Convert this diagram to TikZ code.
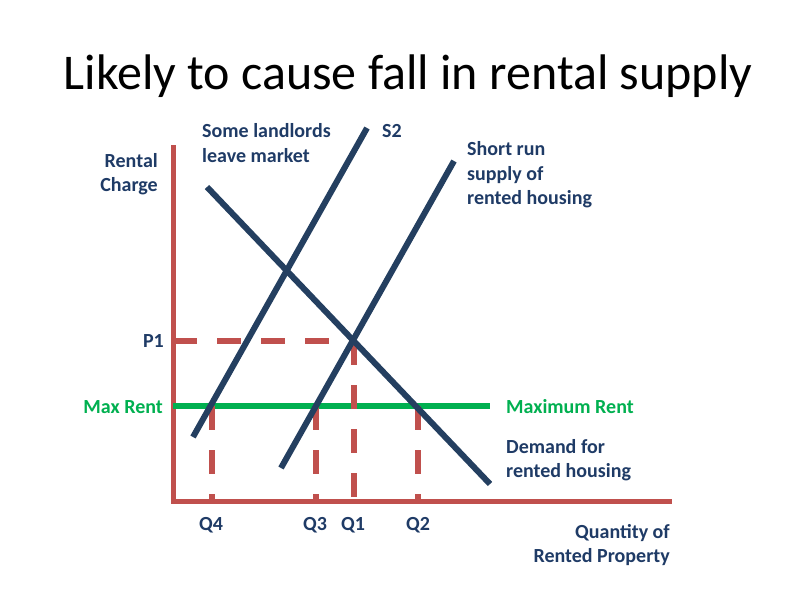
\documentclass[tikz,border=0pt]{standalone}
\usepackage{fontspec}
\setmainfont{Carlito}
\usepackage{tikz}
\usetikzlibrary{arrows,positioning}
\definecolor{curveblue}{HTML}{243F60}
\definecolor{labelblue}{HTML}{1F3B66}
\definecolor{axisred}{HTML}{C0504D}
\definecolor{rentgreen}{HTML}{00B050}

\begin{document}
\begin{tikzpicture}[x=1pt,y=-1pt]
\tikzset{curve/.style = {line width=6pt, color=curveblue},
  guide/.style = {line width=5.5pt, color=axisred, dash pattern=on 24pt off 20pt},
  lbl/.style = {font=\fontsize{20}{24.5}\selectfont\bfseries, text=labelblue, inner sep=0pt}}
%page and title
\fill[white] (0,0) rectangle (806,600);
\useasboundingbox (0,0) rectangle (806,600);
\node[anchor=base] (title) at (408,89) {\fontsize{50}{60}\selectfont Likely to cause fall in rental supply};
%axes
\coordinate (ytop) at (173,145); \coordinate (O) at (173,501); \coordinate (xend) at (672,501);
\draw[line width=5pt, axisred] (ytop) -- (O) -- (xend);
%maximum rent
\coordinate (mr1) at (173,406); \coordinate (mr2) at (490,406);
\draw[line width=6.5pt, rentgreen] (mr1) -- (mr2);
%end points of demand and supply
\coordinate (D1) at (207,187); \coordinate (D2) at (490,484);
\coordinate (S1a) at (281,468); \coordinate (S1b) at (454,161);
\coordinate (S2a) at (193,437); \coordinate (S2b) at (367,128);
%dashed guides
\coordinate (p1) at (173,341); \coordinate (e1) at (354,341);
\draw[guide] (p1) -- (e1);
\draw[guide] (e1) -- (354,501);
\draw[guide] (212,406) -- (212,501);
\draw[guide] (316,406) -- (316,501);
\draw[guide] (418,406) -- (418,501);
%demand, short run supply, S2
\draw[curve] (D1) -- (D2);
\draw[curve] (S1a) -- (S1b);
\draw[curve] (S2a) -- (S2b);
%axis labels
\node[lbl, anchor=east, align=right] (charge) at (158,174) {Rental\\Charge};
\node[lbl, anchor=east] (P1) at (164,341) {P1};
\node[lbl, anchor=east, text=rentgreen] (maxrent) at (163,407) {Max Rent};
\node[lbl] (Q4) at (211,525) {Q4};
\node[lbl] (Q3) at (315,525) {Q3};
\node[lbl] (Q1) at (353,525) {Q1};
\node[lbl] (Q2) at (418,525) {Q2};
\node[lbl, anchor=east, align=right] (qty) at (670,545) {Quantity of\\Rented Property};
%curve labels
\node[lbl, anchor=west, align=left] (leave) at (202,143) {Some landlords\\leave market};
\node[lbl, anchor=west] (S2) at (382,131) {S2};
\node[lbl, anchor=west, align=left] (short) at (467,175) {Short run\\supply of\\rented housing};
\node[lbl, anchor=west, text=rentgreen] (maximum) at (506,407) {Maximum Rent};
\node[lbl, anchor=west, align=left] (demand) at (506,460) {Demand for\\rented housing};
\end{tikzpicture}
\end{document}
